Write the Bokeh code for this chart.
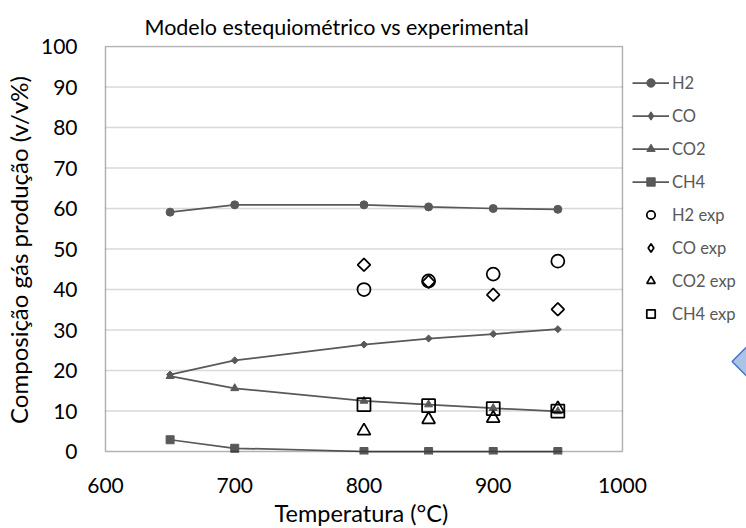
import math
from bokeh.plotting import figure
from bokeh.models import Range1d, FixedTicker, Legend, LegendItem, Title, BoxAnnotation
from bokeh.embed import file_html
from bokeh.resources import INLINE

# ---- data ----
temps_model = [650, 700, 800, 850, 900, 950]
h2 = [59.1, 60.9, 60.9, 60.4, 60.0, 59.8]
co = [19.0, 22.5, 26.4, 27.9, 29.0, 30.2]
co2 = [18.6, 15.6, 12.5, 11.6, 10.7, 9.9]
ch4 = [2.9, 0.8, 0.0, 0.0, 0.0, 0.0]

temps_exp = [800, 850, 900, 950]
h2_exp = [40.0, 42.1, 43.8, 47.0]
co_exp = [46.1, 41.9, 38.7, 35.1]
co2_exp = [5.1, 7.9, 8.2, 10.6]
ch4_exp = [11.6, 11.3, 10.6, 10.0]

x_ticks = [600, 700, 800, 900, 1000]
y_ticks = [0, 10, 20, 30, 40, 50, 60, 70, 80, 90, 100]

FONT = "Lato"
GRAY = "#595959"

# ---- layout (pixels) ----
W, H = 746, 528
BOX_L, BOX_R, BOX_T, BOX_B = 100, 621, 46, 451      # chart box in the reference
F_L, F_T, F_B = 97, 45, 454                         # plot frame (a bit larger than box)
XMIN, XMAX, YMIN, YMAX = x_ticks[0], x_ticks[-1], y_ticks[0], y_ticks[-1]
ppx = (BOX_R - BOX_L) / (XMAX - XMIN)
ppy = (BOX_B - BOX_T) / (YMAX - YMIN)
x_start = XMIN - (BOX_L - F_L) / ppx
x_end = XMIN + (W - BOX_L) / ppx
y_start = YMIN - (F_B - BOX_B) / ppy
y_end = YMAX + (BOX_T - F_T) / ppy

def dx(px):
    return XMIN + (px - BOX_L) / ppx

def dy(py):
    return YMIN + (BOX_B - py) / ppy

p = figure(width=W, height=H, output_backend="svg", toolbar_location=None,
           x_range=Range1d(x_start, x_end), y_range=Range1d(y_start, y_end),
           min_border_left=F_L, min_border_right=0, min_border_top=F_T,
           min_border_bottom=H - F_B, background_fill_color="white",
           border_fill_color="white")
p.title = Title(text="Modelo estequiométrico vs experimental", align="left",
                offset=42, text_font=FONT, text_font_size="21.5px",
                text_font_style="normal", text_color="#000000",
                vertical_align="top", standoff=8)

p.outline_line_color = None
p.xgrid.grid_line_color = None
p.ygrid.grid_line_color = None

# gridlines limited to the chart box
inner = [t for t in y_ticks if YMIN < t < YMAX]
p.segment(x0=[XMIN] * len(inner), x1=[XMAX] * len(inner), y0=inner, y1=inner,
          line_color="#D9D9D9", line_width=1.5)

# chart box
p.add_layout(BoxAnnotation(left=XMIN, right=XMAX, bottom=YMIN, top=YMAX,
                           fill_color=None, line_color="black", line_width=1.5))

p.xaxis.ticker = FixedTicker(ticks=x_ticks)
p.yaxis.ticker = FixedTicker(ticks=y_ticks)
for ax in (p.xaxis, p.yaxis):
    ax.axis_line_color = None
    ax.major_tick_line_color = None
    ax.minor_tick_line_color = None
    ax.major_label_text_font = FONT
    ax.major_label_text_font_size = "21px"
    ax.major_label_text_color = "#000000"
p.xaxis.major_label_standoff = 17
p.yaxis.major_label_standoff = 19
p.yaxis.axis_label = "Composição gás produção (v/v%)"
p.yaxis.axis_label_text_font = FONT
p.yaxis.axis_label_text_font_size = "24px"
p.yaxis.axis_label_text_font_style = "normal"
p.yaxis.axis_label_text_color = "#000000"
p.yaxis.axis_label_standoff = 5

p.add_layout(Title(text="Temperatura (°C)", align="left", offset=172,
                   text_font=FONT, text_font_size="23.5px",
                   text_font_style="normal", text_color="#000000",
                   standoff=2), "below")

items = []
nan = [float("nan")]
# model series
specs = [("H2", h2, "circle", 8, 0.0, "circle"),
         ("CO", co, "square", 5, math.pi / 4, "diamond"),
         ("CO2", co2, "triangle", 8, 0.0, "triangle"),
         ("CH4", ch4, "square", 8, 0.0, "square")]
for name, ys, marker, size, ang, lmarker in specs:
    r1 = p.line(temps_model, ys, line_color=GRAY, line_width=1.75)
    r2 = p.scatter(temps_model, ys, marker=marker, size=size, angle=ang,
                   fill_color=GRAY, line_color=GRAY)
    r3 = p.scatter(nan, nan, marker=lmarker, size=size,
                   fill_color=GRAY, line_color=GRAY)
    items.append(LegendItem(label=name, renderers=[r1, r3]))

exp_specs = [("H2 exp", h2_exp, "circle", 13, 0.0, "circle"),
             ("CO exp", co_exp, "square", 9, math.pi / 4, "diamond"),
             ("CO2 exp", co2_exp, "triangle", 13, 0.0, "triangle"),
             ("CH4 exp", ch4_exp, "square", 13, 0.0, "square")]
for name, ys, marker, size, ang, lmarker in exp_specs:
    r = p.scatter(temps_exp, ys, marker=marker, size=size, angle=ang,
                  fill_color=None, line_color="black", line_width=1.75)
    r3 = p.scatter(nan, nan, marker=lmarker, size=size,
                   fill_color=None, line_color="black", line_width=1.75)
    items.append(LegendItem(label=name, renderers=[r3]))

legend = Legend(items=items, location=(627 - F_L, F_B - 324), orientation="vertical",
                border_line_color=None, background_fill_alpha=0,
                padding=0, margin=0, spacing=12, glyph_height=21,
                glyph_width=37, label_standoff=3, label_height=21,
                label_text_font=FONT, label_text_font_size="16.5px",
                label_text_color=GRAY)
p.add_layout(legend, "center")

# partially visible callout arrow at the right edge of the picture
p.patch([dx(731.5), dx(752), dx(752)], [dy(361), dy(340.5), dy(381.5)],
        fill_color="#A9C4E6", line_color="#4472C4", line_width=1.5)

open("out.html", "w").write(file_html(p, INLINE))
